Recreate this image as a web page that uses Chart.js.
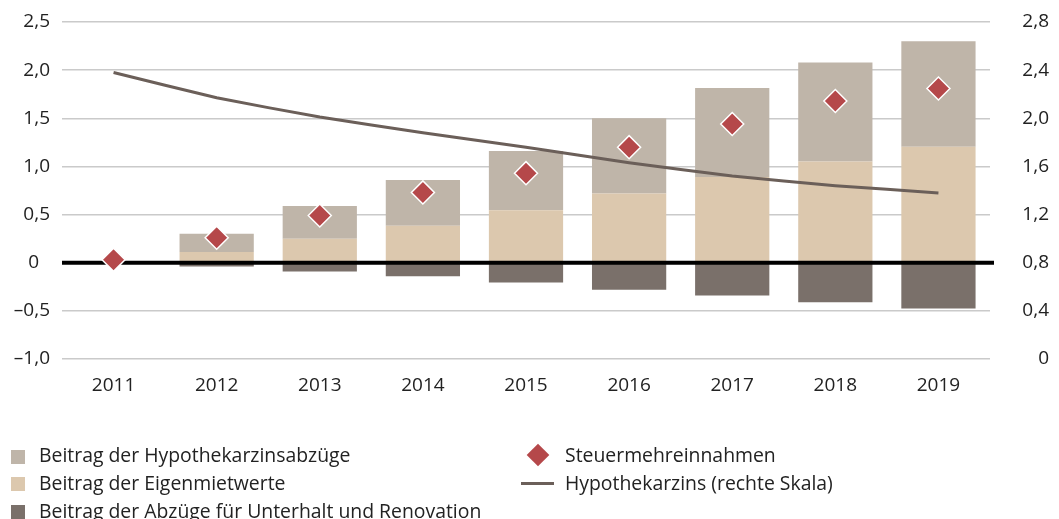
<!DOCTYPE html>
<html>
<head>
<meta charset="utf-8">
<script src="https://cdn.jsdelivr.net/npm/chart.js@4"></script>
<style>
  body { margin: 0; background: #fff; font-family: "Open Sans", sans-serif; color: #222; }
  #wrap { position: relative; width: 1059px; height: 519px; }
  #legend { position: absolute; left: 0; top: 0; width: 1059px; height: 519px; pointer-events: none; }
  .item { position: absolute; font-size: 19.4px; line-height: 22px; white-space: nowrap; }
  .sq { position: absolute; width: 14px; height: 14px; }
</style>
</head>
<body>
<div id="wrap">
  <canvas id="chart" width="1059" height="519"></canvas>
  <div id="legend">
    <div class="sq" style="left:11px;top:450px;background:#BFB5A9"></div>
    <div class="item" style="left:39px;top:444px">Beitrag der Hypothekarzinsabzüge</div>
    <div class="sq" style="left:11px;top:477px;background:#DCC8AE"></div>
    <div class="item" style="left:39px;top:472px">Beitrag der Eigenmietwerte</div>
    <div class="sq" style="left:11px;top:505px;background:#7A706A"></div>
    <div class="item" style="left:39px;top:500px">Beitrag der Abzüge für Unterhalt und Renovation</div>
    <div class="sq" style="left:530px;top:447px;width:16px;height:16px;background:#B5484A;transform:rotate(45deg)"></div>
    <div class="item" style="left:565px;top:444px">Steuermehreinnahmen</div>
    <div class="sq" style="left:521px;top:482px;width:33px;height:3px;background:#6B5F59"></div>
    <div class="item" style="left:565px;top:472px">Hypothekarzins (rechte Skala)</div>
  </div>
</div>
<script>
// Jahre
const years = ['2011', '2012', '2013', '2014', '2015', '2016', '2017', '2018', '2019'];
// Beiträge (Mrd. CHF)
const hypoAbzuege = [0, 0.19, 0.34, 0.475, 0.615, 0.78, 0.925, 1.03, 1.095];
const eigenmietwerte = [0, 0.11, 0.25, 0.385, 0.545, 0.72, 0.89, 1.05, 1.205];
const unterhalt = [0, -0.04, -0.09, -0.14, -0.205, -0.28, -0.34, -0.41, -0.475];
const steuermehr = [0.03, 0.26, 0.49, 0.73, 0.93, 1.20, 1.44, 1.68, 1.81];
// Hypothekarzins in % (rechte Skala)
const hypozins = [2.38, 2.17, 2.01, 1.88, 1.76, 1.63, 1.52, 1.44, 1.38];

function fmt(v) {
    if (v === 0) return '0';
    return v.toFixed(1).replace('.', ',').replace('-', '\u2013');
}

// Nulllinie über die Balken zeichnen
const zeroLine = {
    id: 'zeroLine',
    beforeDatasetDraw(chart, args) {
        if (args.meta.type !== 'line' || args.meta.yAxisID !== 'y1') return;
        const ctx = chart.ctx;
        const y = chart.scales.y.getPixelForValue(0);
        ctx.save();
        ctx.strokeStyle = '#000';
        ctx.lineWidth = 4;
        ctx.beginPath();
        ctx.moveTo(chart.chartArea.left, y);
        ctx.lineTo(chart.chartArea.right + 4, y);
        ctx.stroke();
        ctx.restore();
    }
};

Chart.defaults.font.family = '"Open Sans", sans-serif';
Chart.defaults.color = '#222';

new Chart(document.getElementById('chart'), {
    type: 'bar',
    data: {
        labels: years,
        datasets: [
            {
                type: 'line',
                label: 'Steuermehreinnahmen',
                data: steuermehr,
                yAxisID: 'y',
                showLine: false,
                pointStyle: 'rectRot',
                pointRadius: 11.5,
                pointBackgroundColor: '#B5484A',
                pointBorderColor: '#fff',
                pointBorderWidth: 1.5,
                order: 1
            },
            {
                type: 'line',
                label: 'Hypothekarzins (rechte Skala)',
                data: hypozins,
                yAxisID: 'y1',
                borderColor: '#6B5F59',
                borderWidth: 3,
                pointRadius: 0,
                tension: 0.1,
                order: 2
            },
            {
                label: 'Beitrag der Eigenmietwerte',
                data: eigenmietwerte,
                backgroundColor: '#DCC8AE',
                stack: 's',
                order: 3
            },
            {
                label: 'Beitrag der Hypothekarzinsabzüge',
                data: hypoAbzuege,
                backgroundColor: '#BFB5A9',
                stack: 's',
                order: 3
            },
            {
                label: 'Beitrag der Abzüge für Unterhalt und Renovation',
                data: unterhalt,
                backgroundColor: '#7A706A',
                stack: 's',
                order: 3
            }
        ]
    },
    options: {
        responsive: false,
        animation: false,
        layout: { padding: { top: 22, left: 0, right: 10, bottom: 0 } },
        datasets: { bar: { barPercentage: 0.72, categoryPercentage: 1.0 } },
        plugins: {
            legend: { display: false },
            tooltip: { enabled: false }
        },
        scales: {
            x: {
                stacked: true,
                grid: { display: false, drawTicks: false },
                border: { display: false },
                ticks: { padding: 15, font: { size: 19 } },
                afterFit(s) { s.height = 160; }
            },
            y: {
                stacked: true,
                position: 'left',
                min: -1,
                max: 2.5,
                grid: { color: '#CACACA', lineWidth: 1.5, drawTicks: false },
                border: { display: false },
                ticks: {
                    stepSize: 0.5, padding: 12, font: { size: 19 },
                    callback: v => v === 0 ? '0\u2007' : fmt(v)
                },
                afterFit(s) { s.width = 62; s.paddingTop = 10; s.paddingBottom = 10; }
            },
            y1: {
                position: 'right',
                min: 0,
                max: 2.8,
                grid: { display: false, drawTicks: false },
                border: { display: false },
                ticks: { stepSize: 0.4, padding: 30, crossAlign: 'far', font: { size: 19 }, callback: v => fmt(v) },
                afterFit(s) { s.width = 59; s.paddingTop = 10; s.paddingBottom = 10; }
            }
        }
    },
    plugins: [zeroLine]
});
</script>
</body>
</html>
